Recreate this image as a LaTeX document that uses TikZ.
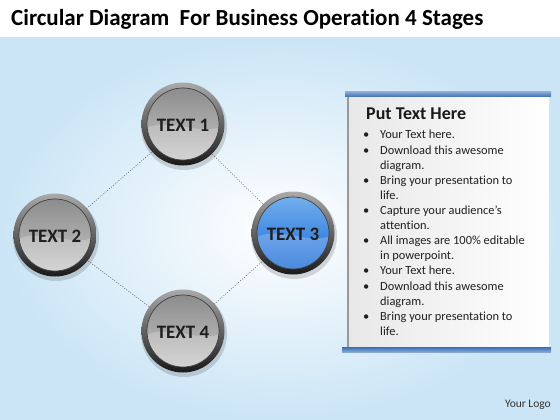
\documentclass[tikz,border=0pt]{standalone}
\usepackage{fontspec}
\setmainfont{Carlito}[Ligatures=NoCommon]
\definecolor{bgblue}{RGB}{203,229,246}
\definecolor{rimtop}{RGB}{170,170,170}
\definecolor{rimbot}{RGB}{25,25,25}
\definecolor{graytop}{RGB}{140,140,140}
\definecolor{graybot}{RGB}{200,200,200}
\definecolor{bluetop}{RGB}{115,175,238}
\definecolor{bluebot}{RGB}{25,105,215}
\definecolor{barblue}{RGB}{55,110,180}
\definecolor{txtdark}{RGB}{30,30,30}
\newcommand\myorb[3]{%
  \fill[black,opacity=.15,shift={(#1)}] (1,3) circle (43);
  \shade[shift={(#1)},top color=rimtop,bottom color=rimbot] (0,0) circle (41.5);
  \shade[shift={(#1)},top color=#2,bottom color=#3] (0,0) circle (36);
  \fill[shift={(#1)},white,opacity=.22] (-35.8,3.8) .. controls (-15,-6) and (12,10) .. (35.8,3.8) arc[start angle=6,end angle=174,radius=36] -- cycle;
  \draw[shift={(#1)},black!75,line width=.7] (0,0) circle (36);
}
\tikzset{
  orbtext/.style={circle,minimum size=83pt,inner sep=0pt,text=txtdark,font=\bfseries\fontsize{19}{22}\selectfont},
  conn/.style={draw=black!65,line width=.5pt,dash pattern=on 1pt off 1.5pt},
  listtext/.style={inner sep=0pt,text=black!88,font=\fontsize{12.4}{15}\selectfont}
}
\begin{document}
\begin{tikzpicture}[x=1pt,y=-1pt]
\useasboundingbox (0,0) rectangle (560,420);
\fill[white] (0,0) rectangle (560,420);
\shade[inner color=white,outer color=bgblue] (0,38) rectangle (560,420);
\node[anchor=west,inner sep=0pt,text=black,font=\bfseries\fontsize{23}{26}\selectfont] (title) at (11,19) {Circular Diagram\ \ For Business Operation 4 Stages};
% orbs
\myorb{183,124}{graytop}{graybot}
\myorb{55,235}{graytop}{graybot}
\myorb{293,233}{bluetop}{bluebot}
\myorb{183,331}{graytop}{graybot}
\node[orbtext] (c1) at (183,125) {TEXT 1};
\node[orbtext] (c2) at (55,236) {TEXT 2};
\node[orbtext] (c3) at (293,234) {TEXT 3};
\node[orbtext] (c4) at (183,332) {TEXT 4};
\draw[conn] (c1) -- (c2);
\draw[conn] (c1) -- (c3);
\draw[conn] (c2) -- (c4);
\draw[conn] (c4) -- (c3);
% panel
\shade[left color=black!9,right color=white] (348,97) rectangle (549,349);
\draw[black!40,line width=1.5pt] (348,97) -- (348,349);
\shade[top color=barblue!60,bottom color=barblue] (345,92) rectangle (551,97);
\shade[top color=barblue,bottom color=barblue!60] (342,347) rectangle (551,352);
\node[anchor=base west,inner sep=0pt,text=black!90,font=\bfseries\fontsize{18}{21}\selectfont] (ptitle) at (366,119) {Put Text Here};
\foreach \b/\t [count=\i] in {1/Your Text here.,1/Download this awesome,0/diagram.,1/Bring your presentation to,0/life.,1/Capture your audience’s,0/attention.,1/All images are 100\% editable,0/in powerpoint.,1/Your Text here.,1/Download this awesome,0/diagram.,1/Bring your presentation to,0/life.}{
  \node[listtext,anchor=base west] (l\i) at (380,{139+(\i-1)*15.1}) {\t};
  \ifnum\b=1 \node[listtext,anchor=base west] (b\i) at (363,{139+(\i-1)*15.1}) {\textbullet};\fi
}
\node[anchor=east,inner sep=0pt,text=black!80,font=\fontsize{11.5}{13}\selectfont] (logo) at (551,405) {Your Logo};
\end{tikzpicture}
\end{document}
